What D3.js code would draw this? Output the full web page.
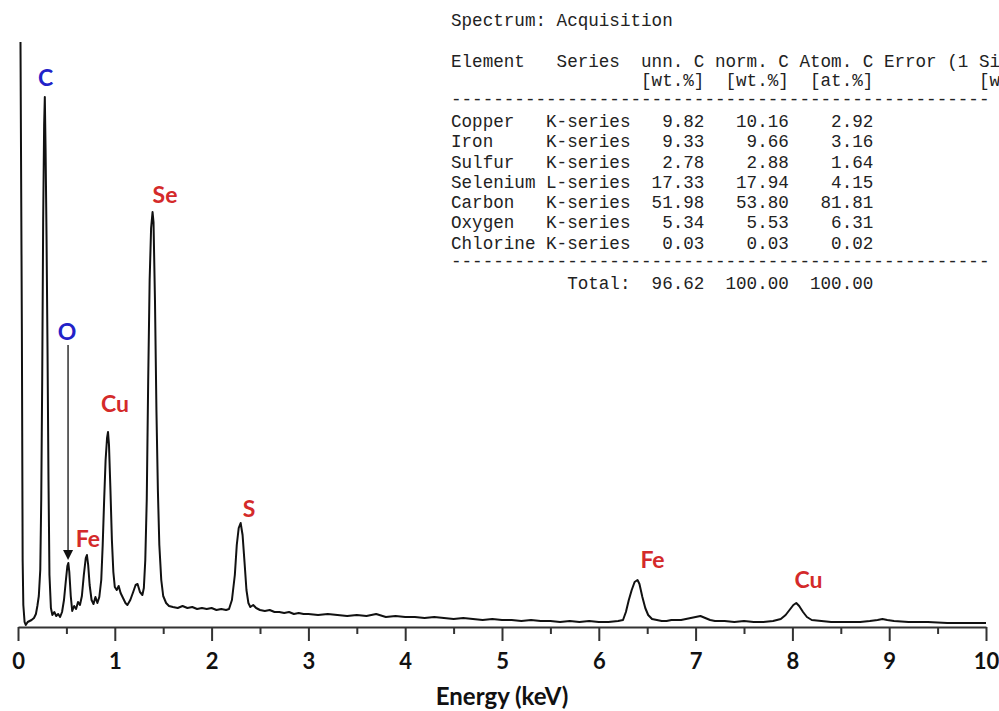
<!DOCTYPE html>
<html><head><meta charset="utf-8">
<script src="https://cdn.jsdelivr.net/npm/d3@7"></script>
<style>body{margin:0;background:#fff;} svg{display:block}</style>
</head><body>
<svg id="c" width="999" height="711"></svg>
<script>
// EDS spectrum (energy in keV, counts in arbitrary units)
const energy = [0.020,0.040,0.048,0.055,0.068,0.080,0.100,0.120,0.140,0.165,0.185,0.200,
 0.215,0.230,0.240,0.250,0.260,0.270,0.277,0.285,0.295,0.305,0.315,0.325,0.340,0.355,0.375,0.395,0.415,0.435,0.455,
 0.475,0.495,0.510,0.520,0.530,0.545,0.560,0.580,0.600,0.620,0.640,0.660,
 0.680,0.700,0.712,0.725,0.740,0.760,0.780,0.800,0.820,0.840,
 0.860,0.875,0.890,0.905,0.920,0.930,0.940,0.955,0.970,0.985,1.000,1.020,1.040,1.060,1.085,1.110,1.130,1.160,1.190,1.215,1.235,1.260,1.285,
 1.300,1.315,1.330,1.345,1.360,1.375,1.390,1.400,1.415,1.430,1.445,1.460,1.480,1.500,1.530,1.560,
 1.60,1.65,1.70,1.75,1.80,1.85,1.90,1.95,2.00,2.05,2.10,2.15,2.18,
 2.21,2.24,2.26,2.28,2.30,2.32,2.34,2.36,2.38,2.40,2.43,2.46,2.50,2.55,2.60,2.65,2.70,2.75,2.80,2.85,2.90,2.95,
 3.00,3.10,3.20,3.30,3.40,3.50,3.60,3.70,3.80,3.90,4.00,4.10,4.20,4.30,4.40,4.50,4.60,4.70,4.80,4.90,
 5.00,5.10,5.20,5.30,5.40,5.50,5.60,5.70,5.80,5.90,6.00,6.10,6.20,6.25,
 6.28,6.31,6.34,6.37,6.40,6.42,6.45,6.48,6.51,6.55,6.60,6.65,6.70,6.75,6.80,6.85,6.90,6.95,7.00,7.05,7.10,7.15,
 7.20,7.30,7.40,7.50,7.60,7.70,7.80,7.88,7.93,7.97,8.01,8.04,8.07,8.11,8.15,8.20,8.30,8.40,8.50,8.60,8.70,8.80,8.88,8.93,8.98,
 9.05,9.20,9.40,9.60,9.80,10.0];
const counts = [7000,2970,670,220,50,20,50,60,70,90,130,210,
 310,570,1270,2470,4070,5020,5300,4770,3870,2770,1470,520,190,120,150,110,130,100,150,
 270,470,610,640,550,310,160,210,180,250,220,310,
 520,690,720,620,420,270,230,300,240,300,
 470,820,1270,1670,1890,1950,1820,1370,870,550,400,370,410,340,290,240,220,270,350,420,430,350,320,
 390,670,1270,2470,3470,3990,4150,4050,3270,2170,1370,820,470,310,240,210,
 200,190,210,190,200,180,190,180,190,170,180,170,180,
 270,520,820,990,1040,920,650,370,240,200,220,190,170,160,170,150,150,140,150,130,140,130,
 130,120,130,120,110,120,110,130,100,110,100,100,90,100,90,80,90,80,70,80,
 70,70,60,70,60,60,50,60,50,60,50,50,60,70,
 150,270,370,450,470,430,300,190,120,80,70,60,60,70,70,70,80,90,100,110,90,70,
 60,60,50,60,50,50,60,80,120,170,220,240,210,150,100,70,60,50,50,50,50,60,70,80,70,
 60,50,50,40,40,40];

const xTicks = [0,1,2,3,4,5,6,7,8,9,10];
const xMinorTicks = [0.5,1.5,2.5,3.5,4.5,5.5,6.5,7.5,8.5,9.5];
const xTitle = "Energy (keV)";

// peak annotations
const peakNames  = ["C","O","Se","Cu","Fe","S","Fe","Cu"];
const peakColors = ["#2222c8","#2222c8","#d42a2a","#d42a2a","#d42a2a","#d42a2a","#d42a2a","#d42a2a"];
const peakLabelEnergy = [0.284,0.506,1.519,1.002,0.723,2.386,6.555,8.166];
const peakLabelCount  = [5410,2870,4240,2150,800,1100,590,390];
const arrowEnergy = 0.517, arrowFrom = 2820, arrowTo = 670;

// quantification table (as shown, cut at the right edge of the picture)
const tableTitle = "Spectrum: Acquisition";
const headerLine1 = "Element   Series  unn. C norm. C Atom. C Error (1 Si";
const headerLine2 = "                  [wt.%]  [wt.%]  [at.%]          [w";
const elements = ["Copper","Iron","Sulfur","Selenium","Carbon","Oxygen","Chlorine"];
const seriesNames = ["K-series","K-series","K-series","L-series","K-series","K-series","K-series"];
const unnC  = [9.82,9.33,2.78,17.33,51.98,5.34,0.03];
const normC = [10.16,9.66,2.88,17.94,53.80,5.53,0.03];
const atomC = [2.92,3.16,1.64,4.15,81.81,6.31,0.02];
const totals = [96.62,100.00,100.00];

const svg = d3.select("#c");
const x = d3.scaleLinear().domain([0,10]).range([18,986]);
const y = d3.scaleLinear().domain([0,6000]).range([627,27]);

svg.append("defs").append("clipPath").attr("id","clip")
  .append("rect").attr("x",0).attr("y",42).attr("width",999).attr("height",600);

const data = energy.map((e,i)=>[e,counts[i]]);
svg.append("path").datum(data)
  .attr("clip-path","url(#clip)")
  .attr("fill","none").attr("stroke","#111").attr("stroke-width",2)
  .attr("stroke-linejoin","round")
  .attr("d", d3.line().x(d=>x(d[0])).y(d=>y(d[1])));

// axis
const ax = svg.append("g").attr("transform","translate(0,627)")
  .call(d3.axisBottom(x).tickValues(xTicks).tickSize(14).tickSizeOuter(0).tickPadding(12).tickFormat(d3.format("d")));
ax.select(".domain").attr("stroke","#333").attr("stroke-width",2);
ax.selectAll(".tick line").attr("stroke","#333").attr("stroke-width",2);
ax.selectAll(".tick text").attr("font-family","Lato, 'Liberation Sans', sans-serif")
  .attr("font-weight","bold").attr("font-size",22).attr("fill","#111");
const axm = svg.append("g").attr("transform","translate(0,627)")
  .call(d3.axisBottom(x).tickValues(xMinorTicks).tickSize(7).tickFormat(""));
axm.select(".domain").remove();
axm.selectAll(".tick line").attr("stroke","#333").attr("stroke-width",2);

svg.append("text").attr("x",502).attr("y",705).attr("text-anchor","middle")
  .attr("font-family","Lato, 'Liberation Sans', sans-serif").attr("font-weight","bold")
  .attr("font-size",24).attr("fill","#111").text(xTitle);

// peak labels
svg.selectAll("text.peak").data(peakNames).enter().append("text").attr("class","peak")
  .attr("x",(d,i)=>x(peakLabelEnergy[i])).attr("y",(d,i)=>y(peakLabelCount[i]))
  .attr("text-anchor","middle").attr("font-family","Lato, 'Liberation Sans', sans-serif")
  .attr("font-weight","bold").attr("font-size",23)
  .attr("fill",(d,i)=>peakColors[i]).text(d=>d);

// arrow for O
const ax0 = x(arrowEnergy), ay0 = y(arrowFrom), ay1 = y(arrowTo);
svg.append("line").attr("x1",ax0).attr("x2",ax0).attr("y1",ay0).attr("y2",ay1-8)
  .attr("stroke","#111").attr("stroke-width",1.3);
svg.append("path").attr("d",`M${ax0-5},${ay1-10} L${ax0+5},${ay1-10} L${ax0},${ay1} Z`).attr("fill","#111");

// table
const pad = (s,n)=>{s=String(s); while(s.length<n) s=" "+s; return s;};
const padR = (s,n)=>{s=String(s); while(s.length<n) s=s+" "; return s;};
const lines = [];
lines.push({t:tableTitle, y:26});
lines.push({t:headerLine1, y:67});
lines.push({t:headerLine2, y:86});
lines.push({t:"-".repeat(51), y:105});
elements.forEach((el,i)=>{
  lines.push({t: padR(el,9)+seriesNames[i]+pad(unnC[i].toFixed(2),7)+pad(normC[i].toFixed(2),8)+pad(atomC[i].toFixed(2),8), y:127+20.25*i});
});
lines.push({t:"-".repeat(51), y:267});
lines.push({t:" ".repeat(11)+"Total:"+pad(totals[0].toFixed(2),7)+pad(totals[1].toFixed(2),8)+pad(totals[2].toFixed(2),8), y:289});

svg.selectAll("text.tbl").data(lines).enter().append("text").attr("class","tbl")
  .attr("x",451).attr("y",d=>d.y).attr("xml:space","preserve").style("white-space","pre")
  .attr("font-family","'Liberation Mono', 'Courier New', monospace").attr("font-size",17.6)
  .attr("fill","#222").text(d=>d.t);
</script>
</body></html>
